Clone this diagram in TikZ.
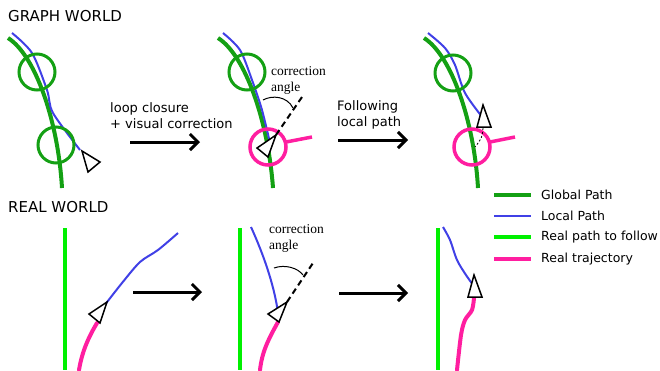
\documentclass[tikz,border=0pt]{standalone}
\usepackage{xcolor}
\usepackage{fontspec}
\setmainfont{DejaVu Sans}
\newfontfamily\anglefont{Liberation Serif}
\usepackage{tikz}
\usetikzlibrary{arrows.meta}
\definecolor{globalgreen}{RGB}{20,160,20}
\definecolor{localblue}{RGB}{64,64,230}
\definecolor{realgreen}{RGB}{0,240,0}
\definecolor{trajpink}{RGB}{255,30,160}
\tikzset{
	globalpath/.style = {globalgreen, line width = 4pt},
	localpath/.style = {localblue, line width = 2pt},
	realpath/.style = {realgreen, line width = 4pt},
	trajectory/.style = {trajpink, line width = 4pt, line cap = round},
	keyframe/.style = {globalgreen, line width = 3pt},
	robotpose/.style = {trajpink, line width = 3.5pt},
	robot/.style = {draw = black, fill = white, line width = 1.5pt},
	heading/.style = {black, line width = 2pt, dash pattern = on 6pt off 4pt},
	stepArrow/.style = {black, line width = 3pt, -{Straight Barb[length = 8pt, width = 16pt]}},
	anglelabel/.style = {anchor = west, font = \anglefont\fontsize{13.5}{16}\selectfont, align = left},
	steptext/.style = {anchor = west, align = left, font = \fontsize{13}{16}\selectfont},
	worldtitle/.style = {anchor = west, font = \fontsize{15}{18}\selectfont},
	legendtext/.style = {anchor = west, font = \fontsize{12.5}{14}\selectfont}
}

\begin{document}
\begin{tikzpicture}[x = 1pt, y = -1pt, every node/.style = {inner sep = 0pt}]
	\useasboundingbox (0,0) rectangle (660,370);
	\node[worldtitle] (graphtitle) at (8,16) {GRAPH WORLD};
	\node[worldtitle] (realtitle) at (8,207) {REAL WORLD};

	\draw[globalpath] (8,38) .. controls (35,55) and (58,120) .. (62,188);
	\draw[localpath] plot[smooth] coordinates {(12,33) (32,53) (47,90) (53,113) (80,150)};
	\draw[keyframe] (37,72) circle (18pt);
	\draw[keyframe] (56,145) circle (18pt);
	\draw[robot] (82,151) -- (100,162) -- (88,172) -- cycle;

	\node[steptext] (loopText) at (110,116) {loop closure\\+ visual correction};
	\coordinate (loopA) at (130,142);
	\coordinate (loopB) at (200,142);
	\draw[stepArrow] (loopA) -- (loopB);

	\draw[globalpath] (218,38) .. controls (245,55) and (268,120) .. (273,188);
	\draw[localpath] plot[smooth] coordinates {(223,33) (240,50) (252,80) (262,110) (270,143)};
	\draw[keyframe] (247,72) circle (18pt);
	\draw[robotpose] (268,147) circle (18pt);
	\draw[robotpose] (286,142) -- (312,137);
	\draw[robot] (257,148) -- (268,157) -- (276,135) -- cycle;
	\draw[heading] (276,135) -- (302,97);
	\draw[black, line width = 1pt] (263,100) .. controls (272,95) and (287,96) .. (293,108);
	\node[anglelabel] (graphAngle) at (271,80) {correction\\angle};

	\node[steptext] (followText) at (337,115) {Following\\local path};
	\coordinate (followA) at (338,140);
	\coordinate (followB) at (408,140);
	\draw[stepArrow] (followA) -- (followB);

	\draw[globalpath] (424,38) .. controls (451,55) and (474,120) .. (478,188);
	\draw[localpath] plot[smooth] coordinates {(428,33) (445,48) (455,65) (465,93) (483,118)};
	\draw[keyframe] (453,73) circle (18pt);
	\draw[robotpose] (472,147) circle (18pt);
	\draw[robotpose] (490,142) -- (515,137);
	\draw[black, line width = 0.8pt, dash pattern = on 2pt off 2pt] (483,128) .. controls (482,138) .. (475,147);
	\draw[robot] (483,105) -- (491,127) -- (477,127) -- cycle;

	\draw[globalpath] (494,195) -- (531,195);
	\node[legendtext] (globalKey) at (541,195) {Global Path};
	\draw[localblue, line width = 2.5pt] (494,216) -- (531,216);
	\node[legendtext] (localKey) at (541,216) {Local Path};
	\draw[realpath] (494,237) -- (531,237);
	\node[legendtext] (realKey) at (541,237) {Real path to follow};
	\draw[trajpink, line width = 4pt] (494,259) -- (531,259);
	\node[legendtext] (trajKey) at (541,259) {Real trajectory};

	\draw[realpath] (65,228) -- (65,370);
	\draw[localpath] plot[smooth] coordinates {(178,233) (158,250) (140,262) (122,283) (104,306)};
	\draw[trajectory] (97,323) .. controls (88,338) and (82,352) .. (79,370);
	\draw[robot] (89,314) -- (100,323) -- (107,302) -- cycle;

	\coordinate (realA) at (133,292);
	\coordinate (realB) at (202,292);
	\draw[stepArrow] (realA) -- (realB);

	\draw[realpath] (240,228) -- (240,370);
	\draw[localpath] (251,227) .. controls (266,260) and (275,290) .. (278,313);
	\draw[trajectory] (278,322) .. controls (268,340) and (262,352) .. (260,370);
	\draw[robot] (268,314) -- (279,322) -- (287,302) -- cycle;
	\draw[heading] (287,302) -- (313,263);
	\draw[black, line width = 1pt] (274,268) .. controls (285,264) and (298,268) .. (303,275);
	\node[anglelabel] (realAngle) at (269,238) {correction\\angle};

	\coordinate (realC) at (339,293);
	\coordinate (realD) at (408,293);
	\draw[stepArrow] (realC) -- (realD);

	\draw[realpath] (438,228) -- (438,370);
	\draw[localpath] plot[smooth] coordinates {(443,227) (450,240) (457,260) (466,275) (476,289)};
	\draw[trajectory] plot[smooth] coordinates {(474,298) (472,310) (465,320) (461,335) (457,370)};
	\draw[robot] (474,275) -- (482,297) -- (468,297) -- cycle;
\end{tikzpicture}
\end{document}
